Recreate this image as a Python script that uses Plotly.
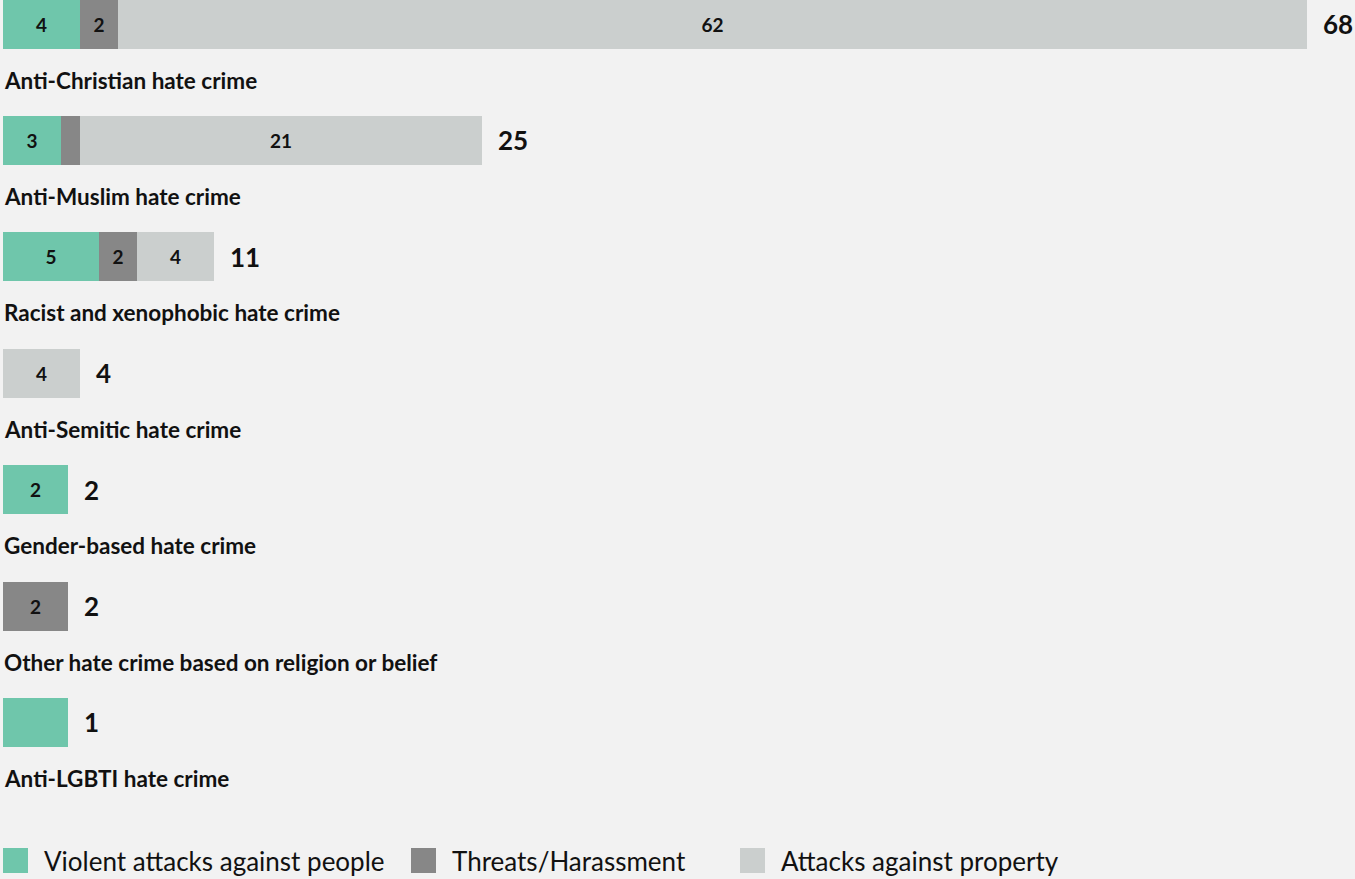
import plotly.graph_objects as go

# ---------------- data ----------------
categories = [
    "Anti-Christian hate crime",
    "Anti-Muslim hate crime",
    "Racist and xenophobic hate crime",
    "Anti-Semitic hate crime",
    "Gender-based hate crime",
    "Other hate crime based on religion or belief",
    "Anti-LGBTI hate crime",
]
series_names = ["Violent attacks against people", "Threats/Harassment", "Attacks against property"]
violent = [4, 3, 5, 0, 2, 0, 1]
threats = [2, 1, 2, 0, 0, 2, 0]
property_ = [62, 21, 4, 4, 0, 0, 0]
totals = [68, 25, 11, 4, 2, 2, 1]

colors = ["#6fc6ab", "#878787", "#cbcfce"]
BG = "#f2f2f2"
FONT = "Lato"

# rendering rule of the original: very short bars get a minimum drawn length
MIN_UNITS = 3.4
PX_PER_UNIT = 19.17
ROW_PX = 116.4
W, H = 1355, 879
LEFT = 3

scale = [max(t, MIN_UNITS) / t for t in totals]
ypos = list(range(len(categories)))

fig = go.Figure()
series = [violent, threats, property_]
for name, vals, col in zip(series_names, series, colors):
    fig.add_trace(go.Bar(
        y=ypos,
        x=[v * s for v, s in zip(vals, scale)],
        orientation="h",
        name=name,
        marker=dict(color=col, line=dict(width=0)),
        width=49 / ROW_PX,
        text=[str(v) if v >= 2 else "" for v in vals],
        textposition="inside",
        insidetextanchor="middle",
        textangle=0,
        constraintext="none",
        textfont=dict(family=FONT, size=19, color="#111111", weight="bold"),
        hoverinfo="skip",
        showlegend=False,
    ))

annotations = []
for i, (cat, t) in enumerate(zip(categories, totals)):
    # total to the right of the bar
    annotations.append(dict(
        x=max(t, MIN_UNITS), y=i, xref="x", yref="y", text=str(t),
        showarrow=False, xanchor="left", yanchor="middle", xshift=14,
        font=dict(family=FONT, size=26, color="#111111", weight="bold"),
    ))
    # category label under the bar
    annotations.append(dict(
        x=0, y=i + 56 / ROW_PX, xref="x", yref="y", text=cat,
        showarrow=False, xanchor="left", yanchor="middle", xshift=-1,
        font=dict(family=FONT, size=22.5, color="#111111", weight="bold"),
    ))

# legend built from squares + labels
legend_px = [3, 411, 740]
shapes = []
sq = 25
ly = 860.5
for name, col, px in zip(series_names, colors, legend_px):
    shapes.append(dict(
        type="rect", xref="paper", yref="paper",
        x0=(px - LEFT) / (W - LEFT), x1=(px + sq - LEFT) / (W - LEFT),
        y0=(H - (ly + sq / 2)) / H, y1=(H - (ly - sq / 2)) / H,
        fillcolor=col, line=dict(width=0), layer="above",
    ))
    annotations.append(dict(
        x=(px + sq + 14 - LEFT) / (W - LEFT), y=(H - ly) / H, xref="paper", yref="paper",
        text=name, showarrow=False, xanchor="left", yanchor="middle",
        font=dict(family=FONT, size=26, color="#111111"),
    ))

y_top = -24 / ROW_PX
y_bot = y_top + H / ROW_PX
fig.update_layout(
    width=W, height=H,
    margin=dict(l=LEFT, r=0, t=0, b=0, pad=0),
    paper_bgcolor=BG, plot_bgcolor=BG,
    barmode="stack", bargap=0,
    xaxis=dict(range=[0, (W - LEFT) / PX_PER_UNIT], visible=False, fixedrange=True),
    yaxis=dict(range=[y_bot, y_top], visible=False, fixedrange=True),
    annotations=annotations,
    shapes=shapes,
    showlegend=False,
    font=dict(family=FONT),
)

fig.write_html(
    "out.html",
    config={"displayModeBar": False},
    post_script="document.body.style.margin='0';document.body.style.background='%s';" % BG,
)
